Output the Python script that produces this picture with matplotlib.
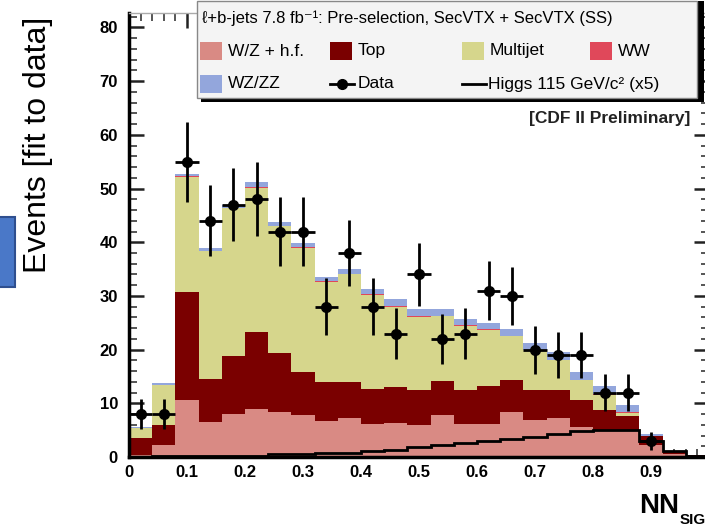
import numpy as np
import matplotlib
matplotlib.use("Agg")
from matplotlib import pyplot as plt
from matplotlib.patches import Rectangle
from matplotlib.lines import Line2D
from matplotlib.ticker import MultipleLocator

plt.rcParams['font.family'] = ['Liberation Sans', 'DejaVu Sans']

# NN output bins (25 bins of 0.04)
edges = np.linspace(0.0, 1.0, 26)

# stacked backgrounds, events per bin
wz_hf = [0.4, 2.2, 10.6, 6.5, 8.1, 8.9, 8.4, 7.8, 6.7, 7.2, 6.1, 6.3, 5.9,
         7.8, 6.2, 6.2, 8.4, 6.9, 7.2, 5.6, 5.0, 5.0, 2.2, 0.6, 0.25]
top = [3.1, 3.8, 20.1, 8.1, 10.8, 14.3, 11.0, 8.0, 7.2, 6.7, 6.6, 6.7, 6.5,
       6.3, 6.2, 7.1, 6.0, 5.6, 5.2, 5.0, 3.8, 2.7, 1.7, 0.4, 0.05]
multijet = [1.9, 7.4, 21.5, 23.7, 27.4, 26.9, 23.6, 23.2, 18.7, 20.1, 17.5, 15.0, 13.7,
            12.1, 12.0, 10.4, 8.1, 7.4, 5.6, 3.7, 2.8, 0.5, 0.0, 0.0, 0.0]
ww = [0.05, 0.1, 0.1, 0.1, 0.1, 0.1, 0.1, 0.1, 0.1, 0.1, 0.1, 0.1, 0.1,
      0.1, 0.1, 0.1, 0.1, 0.1, 0.1, 0.1, 0.1, 0.1, 0.1, 0.05, 0.0]
wz_zz = [0.15, 0.2, 0.5, 0.5, 0.5, 1.1, 0.7, 0.8, 0.9, 0.9, 0.9, 1.3, 1.3,
         1.2, 1.2, 1.2, 1.2, 1.3, 1.4, 1.4, 1.6, 1.3, 0.3, 0.05, 0.05]

# Higgs 115 GeV (x5)
higgs = [0.05, 0.1, 0.2, 0.2, 0.2, 0.2, 0.5, 0.6, 0.7, 0.8, 1.1, 1.3, 1.8,
         2.2, 2.6, 2.9, 3.3, 3.8, 4.3, 4.8, 5.1, 5.0, 3.0, 1.2, 0.2]

# data (first 23 bins)
data = [8, 8, 55, 44, 47, 48, 42, 42, 28, 38, 28, 23, 34, 22, 23, 31, 30,
        20, 19, 19, 12, 12, 3]

names = ['W/Z + h.f.', 'Top', 'Multijet', 'WW', 'WZ/ZZ']
colors = ['#d98a84', '#7a0000', '#d6d68c', '#e0485a', '#93a6dc']

W, H = 705, 527
fig = plt.figure(figsize=(W / 100, H / 100), dpi=100)


def fx(px):
    return px / W


def fy(py):
    return 1 - py / H


ax = fig.add_axes([fx(129), fy(457), 580 / W, (457 - 13) / H])

bw = edges[1] - edges[0]
bottom = np.zeros(len(edges) - 1)
for vals, c in zip([wz_hf, top, multijet, ww, wz_zz], colors):
    ax.bar(edges[:-1], vals, width=bw, align='edge', bottom=bottom,
           color=c, linewidth=0)
    bottom = bottom + np.array(vals)

ax.stairs(higgs, edges, color='black', lw=2, zorder=3)

centers = (edges[:-1] + edges[1:]) / 2
d = np.array(data, dtype=float)
ax.errorbar(centers[:len(d)], d, yerr=np.sqrt(d), xerr=bw / 2, fmt='o',
            color='black', ms=7, elinewidth=2, capsize=0, zorder=5)

ax.set_xlim(0, 1)
ax.set_ylim(0, 82.7)
ax.set_axisbelow(True)
ax.xaxis.set_major_locator(MultipleLocator(0.1))
ax.xaxis.set_minor_locator(MultipleLocator(0.02))
ax.yaxis.set_major_locator(MultipleLocator(10))
ax.yaxis.set_minor_locator(MultipleLocator(2))
ax.set_xticks(np.arange(0, 1.0, 0.1))
ax.set_xticklabels(['0', '0.1', '0.2', '0.3', '0.4', '0.5', '0.6', '0.7', '0.8', '0.9'])
ax.tick_params(which='both', direction='in', top=True, right=True)
ax.tick_params(which='major', length=11, width=1.8, color='#222222')
ax.tick_params(which='minor', length=6, width=1.4, color='#555555')
ax.tick_params(axis='y', pad=8)
ax.tick_params(axis='x', pad=6)
for lab in ax.get_xticklabels() + ax.get_yticklabels():
    lab.set_fontsize(12)
    lab.set_fontweight('bold')
ax.spines['left'].set_linewidth(2.5)
ax.spines['bottom'].set_linewidth(2.5)
ax.spines['top'].set_linewidth(1)
ax.spines['top'].set_color('#aaaaaa')

# legend box (drawn like the ROOT TLegend)
fig.add_artist(Rectangle((fx(201), fy(102)), (700 - 197) / W, 101 / H,
                         transform=fig.transFigure, facecolor='black',
                         edgecolor='none', zorder=9))
fig.add_artist(Rectangle((fx(197), fy(98)), (697 - 197) / W, 97 / H,
                         transform=fig.transFigure, facecolor='#f4f4f4',
                         edgecolor='#888888', lw=1, zorder=10))
fig.text(fx(202), fy(18), 'ℓ+b-jets 7.8 fb⁻¹: Pre-selection, SecVTX + SecVTX (SS)',
         fontsize=12, va='center', ha='left', zorder=11)

entries = [(0, 200, 51), (1, 330, 51), (2, 462, 51), (3, 590, 51), (4, 200, 84)]
for i, x0, yc in entries:
    fig.add_artist(Rectangle((fx(x0), fy(yc + 9)), 22 / W, 18 / H,
                             transform=fig.transFigure, facecolor=colors[i],
                             edgecolor='none', zorder=11))
    fig.text(fx(x0 + 28), fy(yc), names[i], fontsize=12.5, va='center',
             ha='left', zorder=11)

fig.add_artist(Line2D([fx(330), fx(354)], [fy(84), fy(84)], color='black',
                      lw=2, transform=fig.transFigure, zorder=11))
fig.add_artist(Line2D([fx(342)], [fy(84)], color='black', marker='o', ms=7,
                      transform=fig.transFigure, zorder=12))
fig.text(fx(358), fy(84), 'Data', fontsize=12.5, va='center', ha='left', zorder=11)
fig.add_artist(Line2D([fx(462), fx(486)], [fy(84), fy(84)], color='black',
                      lw=2, transform=fig.transFigure, zorder=11))
fig.text(fx(488), fy(84), 'Higgs 115 GeV/c² (x5)', fontsize=12.5, va='center',
         ha='left', zorder=11)

fig.text(fx(690), fy(119), '[CDF II Preliminary]', fontsize=12.5,
         fontweight='bold', ha='right', va='center', color='#222222')

# axis titles
fig.text(fx(38), fy(145), 'Events [fit to data]', rotation=90, fontsize=23,
         ha='center', va='center')
fig.text(fx(639), fy(513), 'NN', fontsize=20, fontweight='bold',
         ha='left', va='baseline')
fig.text(fx(680), fy(524), 'SIG', fontsize=11, fontweight='bold',
         ha='left', va='baseline')

# blue tab at the left edge of the slide
fig.add_artist(Rectangle((fx(-3), fy(287)), 18 / W, 70 / H,
                         transform=fig.transFigure, facecolor='#4a78c8',
                         edgecolor='#2f4f8f', lw=1.5))

fig.savefig('out.png', dpi=100)
